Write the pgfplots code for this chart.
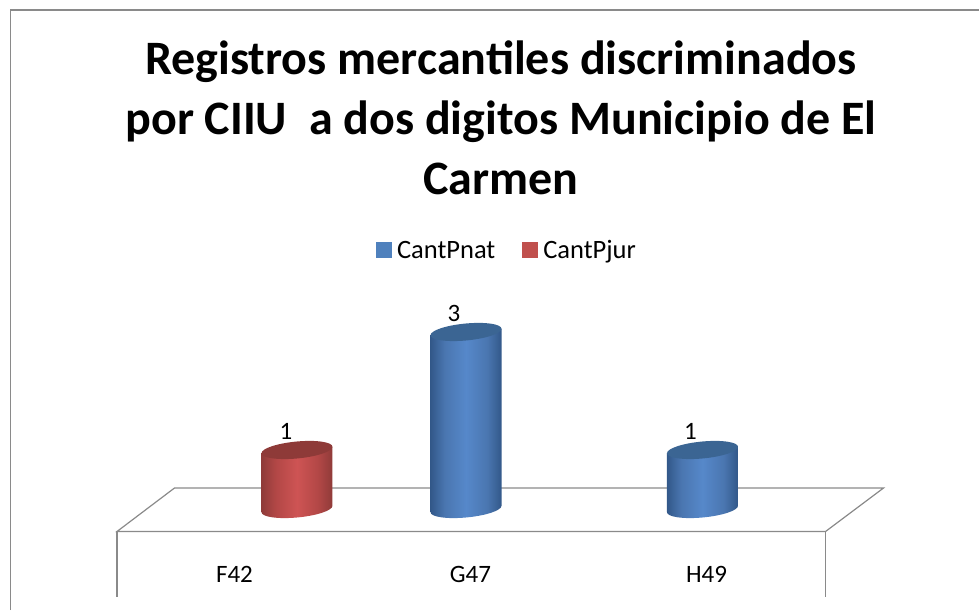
\documentclass[border=0pt]{standalone}
\usepackage{pgfplots}
\pgfplotsset{compat=1.18}
\usepackage{fontspec}
\setmainfont{Carlito}
\definecolor{frameg}{HTML}{8A8A8A}
\definecolor{bdark}{HTML}{325889}
\definecolor{bnear}{HTML}{4A76B0}
\definecolor{bmid}{HTML}{5688CA}
\definecolor{btop}{HTML}{3B6593}
\definecolor{rdark}{HTML}{8F3B39}
\definecolor{rnear}{HTML}{B24746}
\definecolor{rmid}{HTML}{CE5454}
\definecolor{rtop}{HTML}{8E3A38}
\definecolor{lblue}{HTML}{4F81BD}
\definecolor{lred}{HTML}{C0504D}
\pgfdeclarehorizontalshading{cylbshade}{100bp}{color(0bp)=(bdark); color(25bp)=(bdark); color(35bp)=(bnear); color(50bp)=(bmid); color(65bp)=(bnear); color(75bp)=(bdark); color(100bp)=(bdark)}
\pgfdeclarehorizontalshading{cylrshade}{100bp}{color(0bp)=(rdark); color(25bp)=(rdark); color(35bp)=(rnear); color(50bp)=(rmid); color(65bp)=(rnear); color(75bp)=(rdark); color(100bp)=(rdark)}
% one cylinder, hung from the point of its value; \cylv is the value, 59pt per unit
\newcommand{\cylmark}[3]{%
  \pgfdeclareplotmark{#1}{%
    \pgfmathsetmacro{\cylH}{59*\cylv}%
    \pgfscope
      \pgftransformyslant{0.09}%
      \pgfpathmoveto{\pgfpoint{-35.5pt}{0pt}}%
      \pgfpathlineto{\pgfpoint{-35.5pt}{-\cylH pt}}%
      \pgfpatharc{180}{360}{35.5pt and 8.5pt}%
      \pgfpathlineto{\pgfpoint{35.5pt}{0pt}}%
      \pgfpathclose
      \pgfshadepath{#2}{0}%
      \pgfusepath{discard}%
    \endpgfscope
    \pgfscope
      \pgftransformyslant{0.09}%
      \pgfsetfillcolor{#3}%
      \pgfpathellipse{\pgfpointorigin}{\pgfpoint{35.5pt}{0pt}}{\pgfpoint{0pt}{8.5pt}}%
      \pgfusepath{fill}%
    \endpgfscope
  }%
}
\cylmark{cylblue}{cylbshade}{btop}
\cylmark{cylred}{cylrshade}{rtop}
\begin{document}
\begin{tikzpicture}
\useasboundingbox (0,0) rectangle (979pt,610pt);
% chart frame and floor
\draw[frameg,line width=1.3pt] (10.5pt,0pt) -- (10.5pt,600pt) -- (979pt,600pt);
\draw[frameg,line width=1.2pt,line join=miter]
  (117pt,78.5pt) -- (174.5pt,122pt) -- (883.5pt,122pt) -- (825.5pt,78.5pt) -- cycle;
\draw[frameg,line width=1.2pt] (117pt,78.5pt) -- (117pt,13pt);
\draw[frameg,line width=1.2pt] (825.5pt,78.5pt) -- (825.5pt,13pt);
\begin{axis}[
  at={(0pt,0pt)},anchor=south west,
  scale only axis,width=979pt,height=610pt,
  xmin=-0.9936,xmax=3.1547,
  ymin=-1.712,ymax=8.627,
  clip=false,
  axis line style={draw=none},
  tick style={draw=none},
  ytick=\empty,
  xtick={0,1,2},
  xticklabels={F42,G47,H49},
  x tick label style={font=\fontsize{25}{28}\selectfont,anchor=center,yshift=36pt},
  legend style={at={(506.75/979,357.5/610)},anchor=center,draw=none,fill=none,
    font=\fontsize{26.5}{28}\selectfont,
    nodes={text depth=6pt,text height=17pt},
    /tikz/every even column/.append style={column sep=24.5pt}},
  legend columns=2,
  title style={at={(501/979,1)},anchor=north,yshift=-43pt,align=center,
    font=\fontsize{48}{60}\selectfont\bfseries},
  title={Registros mercantiles discriminados\\por CIIU\ \ a dos digitos Municipio de El\\Carmen},
]
\addlegendimage{legend image code/.code={\fill[lblue] (0pt,-4.5pt) rectangle (15pt,10.5pt);\path (19pt,0pt);}}
\addlegendentry{CantPnat}
\addlegendimage{legend image code/.code={\fill[lred] (0pt,-4.5pt) rectangle (15pt,10.5pt);\path (19pt,0pt);}}
\addlegendentry{CantPjur}
% CantPjur
\addplot[forget plot,scatter,only marks,mark=cylred,
  visualization depends on={value \thisrow{v}\as\cylv},
  scatter/@pre marker code/.code={},scatter/@post marker code/.code={},
  nodes near coords={\cylv},
  nodes near coords style={anchor=center,xshift=-11pt,yshift=19pt,text=black,font=\fontsize{25}{28}\selectfont},
] table[x=x,y=v] {
x v
0.2648 1
};
% CantPnat
\addplot[forget plot,scatter,only marks,mark=cylblue,
  visualization depends on={value \thisrow{v}\as\cylv},
  scatter/@pre marker code/.code={},scatter/@post marker code/.code={},
  nodes near coords={\cylv},
  nodes near coords style={anchor=center,xshift=-12pt,yshift=19pt,text=black,font=\fontsize{25}{28}\selectfont},
] table[x=x,y=v] {
x v
0.981 3
1.983 1
};
\end{axis}
\end{tikzpicture}
\end{document}
